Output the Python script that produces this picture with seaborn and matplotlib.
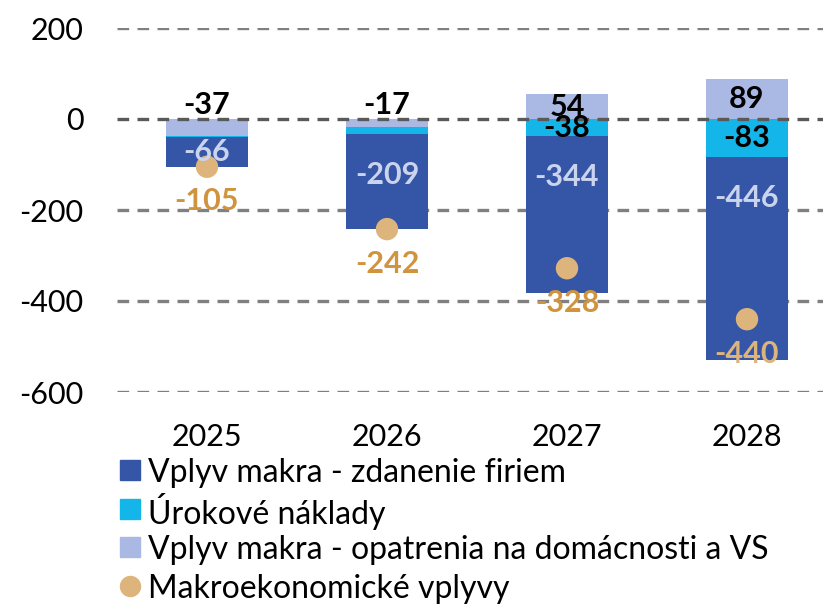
import numpy as np
import matplotlib
matplotlib.use("Agg")
import matplotlib.pyplot as plt
import seaborn as sns
from matplotlib.lines import Line2D

# data
years = ['2025', '2026', '2027', '2028']
firmy = [-66, -209, -344, -446]          # Vplyv makra - zdanenie firiem
urok = [-2, -16, -38, -83]               # Úrokové náklady
domacnosti = [-37, -17, 54, 89]          # Vplyv makra - opatrenia na domácnosti a VS
celkom = [-105, -242, -328, -440]        # Makroekonomické vplyvy
show_urok = [False, False, True, True]

legend_labels = ['Vplyv makra - zdanenie firiem', 'Úrokové náklady',
                 'Vplyv makra - opatrenia na domácnosti a VS', 'Makroekonomické vplyvy']

c_dark = '#3556A6'
c_cyan = '#14B6E9'
c_light = '#A9B9E3'
c_dot = '#DDB47C'
c_dot_txt = '#D0943E'
c_in_dark = '#CBD4EE'

sns.set_style("white")
plt.rcParams['font.family'] = ['Lato', 'DejaVu Sans']
plt.rcParams['axes.unicode_minus'] = False

W, H = 823, 605
fig = plt.figure(figsize=(W / 100, H / 100), dpi=100)
ax = fig.add_axes([117 / W, 1 - 392 / H, 1 - 117 / W, (392 - 28) / H])

x = np.arange(len(years))
w = 0.455
fs = 22

dom = np.array(domacnosti)
ur = np.array(urok)
fi = np.array(firmy)

# light blue: up from 0 if positive, else first negative piece
neg_light = np.where(dom < 0, dom, 0)
bar_kw = dict(edgecolor='none', linewidth=0, zorder=2)
ax.bar(x, dom, w, bottom=0, color=c_light, **bar_kw)
ax.bar(x, ur, w, bottom=neg_light, color=c_cyan, **bar_kw)
ax.bar(x, fi, w, bottom=neg_light + ur, color=c_dark, **bar_kw)

sns.scatterplot(x=x, y=celkom, ax=ax, s=260, color=c_dot, edgecolor='none', zorder=4, legend=False)

for i in range(len(years)):
    # light blue labels
    if dom[i] > 0:
        ax.text(x[i], dom[i] / 2, str(dom[i]), ha='center', va='center', fontsize=fs,
                fontweight='bold', color='black', zorder=5)
    else:
        ax.text(x[i], 30, str(dom[i]), ha='center', va='center', fontsize=fs,
                fontweight='bold', color='black', zorder=5)
    # cyan labels
    if show_urok[i]:
        ax.text(x[i], neg_light[i] + ur[i] / 2, str(ur[i]), ha='center', va='center', fontsize=fs,
                fontweight='bold', color='black', zorder=5)
    # dark blue labels
    top = neg_light[i] + ur[i]
    ypos = max(top - 90, top + fi[i] / 2)
    ax.text(x[i], ypos, str(fi[i]), ha='center', va='center', fontsize=fs,
            fontweight='bold', color=c_in_dark, zorder=5)
    # total labels
    col = c_dot if i == 3 else c_dot_txt
    ax.annotate(str(celkom[i]), (x[i], celkom[i]), xytext=(0, -25), textcoords='offset points',
                ha='center', va='center', fontsize=fs, fontweight='bold', color=col, zorder=5)

ax.set_ylim(-600, 200)
ax.set_xlim(-0.5, (W - 207) / 180)
ax.set_yticks([-600, -400, -200, 0, 200])
ax.set_xticks(x)
ax.set_xticklabels(years)
ax.tick_params(axis='both', length=0, labelsize=fs, colors='black')
ax.tick_params(axis='y', pad=24)
ax.tick_params(axis='x', pad=22)
for s in ax.spines.values():
    s.set_visible(False)

for v in [-600, -400, -200, 200]:
    ax.axhline(v, color='#808080', linewidth=2.4, linestyle=(0, (3.5, 2.5)), zorder=1)
ax.axhline(0, color='#595959', linewidth=2.4, linestyle=(0, (3.5, 2.5)), zorder=3)

# legend drawn row by row below the axes
markers = ['s', 's', 's', 'o']
colors = [c_dark, c_cyan, c_light, c_dot]
for k, (lab, m, c) in enumerate(zip(legend_labels, markers, colors)):
    yc = 1 - (470 + 38.5 * k) / H
    fig.add_artist(Line2D([130 / W], [yc], marker=m, markersize=14.4, color=c, ls='none',
                          transform=fig.transFigure))
    fig.text(148 / W, yc, lab, fontsize=23, va='center_baseline', ha='left', color='black')

fig.savefig('out.png', dpi=100)
